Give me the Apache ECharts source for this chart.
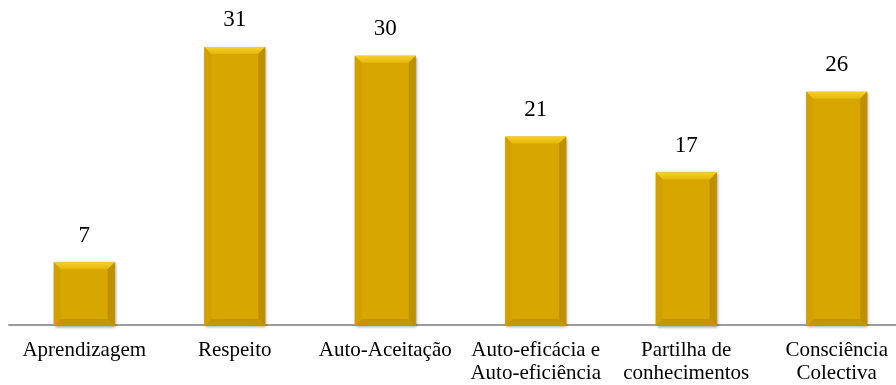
<!DOCTYPE html>
<html>
<head>
<meta charset="utf-8">
<script src="https://cdn.jsdelivr.net/npm/echarts@6/dist/echarts.min.js"></script>
<style>
  html, body { margin: 0; padding: 0; background: #ffffff; }
  #chart { width: 896px; height: 385px; }
</style>
</head>
<body>
<div id="chart"></div>
<script>
// Categories and counts
const categories = [
  'Aprendizagem',
  'Respeito',
  'Auto-Aceitação',
  'Auto-eficácia e\nAuto-eficiência',
  'Partilha de\nconhecimentos',
  'Consciência\nColectiva'
];
const counts = [7, 31, 30, 21, 17, 26];
const categoryIndex = categories.map((c, i) => i);

const chart = echarts.init(document.getElementById('chart'), null, { renderer: 'canvas' });

const serif = '"Liberation Serif", "Times New Roman", serif';

// Bevelled gold column, drawn from the axis coordinates
function renderBevelBar(params, api) {
  const cat = api.value(0);
  const val = api.value(1);
  const top = api.coord([cat, val]);
  const base = api.coord([cat, 0]);
  const w = api.size([1, 0])[0] * 0.405;
  const cx = top[0];
  const x0 = cx - w / 2, x1 = cx + w / 2;
  const y0 = top[1], y1 = base[1] + 1;
  const b = 7;
  return {
    type: 'group',
    children: [
      {
        type: 'rect',
        shape: { x: x0, y: y0, width: w, height: y1 - y0 },
        style: { fill: '#D7A600', shadowBlur: 3, shadowColor: 'rgba(0,0,0,0.45)', shadowOffsetX: 1, shadowOffsetY: 1 }
      },
      {
        type: 'polygon',
        shape: { points: [[x0, y0], [x1, y0], [x1 - b, y0 + b], [x0 + b, y0 + b]] },
        style: {
          fill: new echarts.graphic.LinearGradient(0, 0, 0, 1, [
            { offset: 0, color: '#F6CF2A' },
            { offset: 1, color: '#E6B70A' }
          ])
        }
      },
      {
        type: 'polygon',
        shape: { points: [[x0, y0], [x0 + b, y0 + b], [x0 + b, y1 - b], [x0, y1]] },
        style: { fill: '#D2A100' }
      },
      {
        type: 'polygon',
        shape: { points: [[x1, y0], [x1, y1], [x1 - b, y1 - b], [x1 - b, y0 + b]] },
        style: { fill: '#BE9000' }
      },
      {
        type: 'polygon',
        shape: { points: [[x0, y1], [x0 + b, y1 - b], [x1 - b, y1 - b], [x1, y1]] },
        style: { fill: '#C59600' }
      },
      {
        type: 'text',
        style: {
          text: String(val),
          x: cx,
          y: y0 - 15,
          align: 'center',
          verticalAlign: 'bottom',
          fill: '#000000',
          font: '23px ' + serif
        }
      }
    ]
  };
}

chart.setOption({
  animation: false,
  grid: { left: 9, top: 11, right: 0, height: 314 },
  xAxis: {
    type: 'value',
    min: -0.5,
    max: 5.394,
    splitLine: { show: false },
    axisLine: { show: true, onZero: false, lineStyle: { color: '#9C9C9C', width: 2 } },
    axisTick: { show: false },
    axisLabel: {
      customValues: categoryIndex,
      formatter: v => categories[Math.round(v)] || '',
      margin: 14,
      color: '#000000',
      fontFamily: serif,
      fontSize: 21,
      lineHeight: 23,
      verticalAlign: 'top'
    }
  },
  yAxis: {
    type: 'value',
    min: 0,
    max: 35,
    show: false,
    splitLine: { show: false }
  },
  series: [{
    type: 'custom',
    renderItem: renderBevelBar,
    clip: false,
    data: counts.map((v, i) => [categoryIndex[i], v]),
    encode: { x: 0, y: 1 },
    z: 2
  }]
});
</script>
</body>
</html>
